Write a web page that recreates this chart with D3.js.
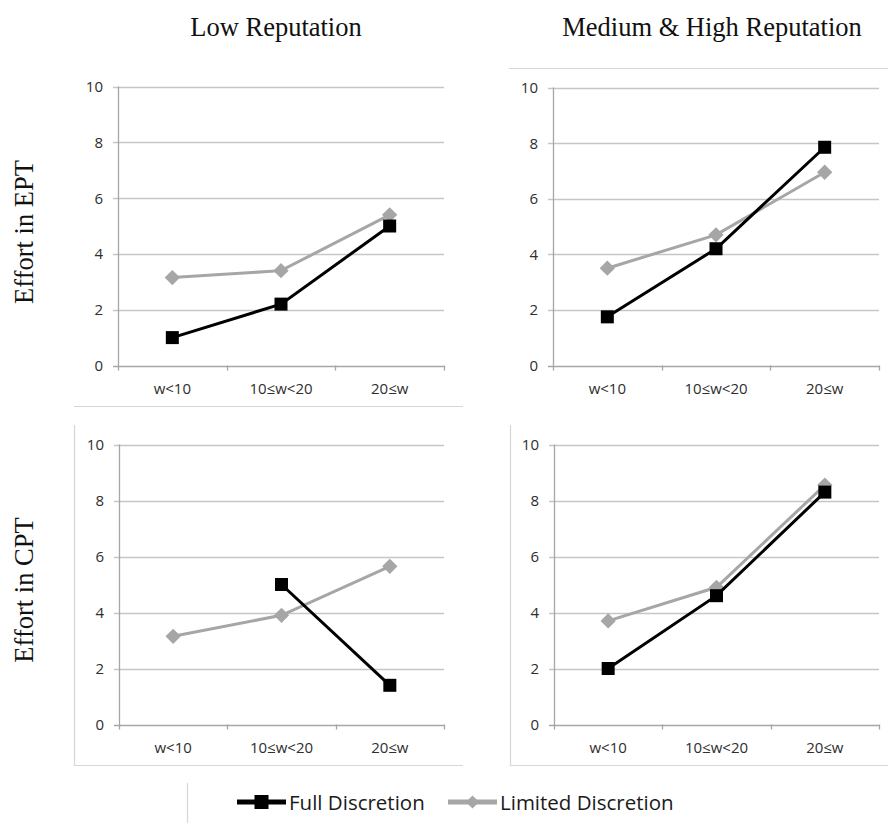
<!DOCTYPE html>
<html>
<head>
<meta charset="utf-8">
<script src="https://cdn.jsdelivr.net/npm/d3@7"></script>
<style>
body { margin: 0; background: #fff; }
svg { display: block; }
</style>
</head>
<body>
<svg width="888" height="823"></svg>
<script>
// categories and series, one array per panel
var categories = ['w<10', '10≤w<20', '20≤w']
var yTicks = [0, 2, 4, 6, 8, 10]
var seriesNames = ['Full Discretion', 'Limited Discretion']
var colTitles = ['Low Reputation', 'Medium & High Reputation']
var rowTitles = ['Effort in EPT', 'Effort in CPT']

var fullLowEPT = [1.0, 2.2, 5.0]
var limitedLowEPT = [3.15, 3.4, 5.4]
var fullHighEPT = [1.75, 4.2, 7.85]
var limitedHighEPT = [3.5, 4.7, 6.95]
var fullLowCPT = [null, 5.0, 1.4]
var limitedLowCPT = [3.15, 3.9, 5.65]
var fullHighCPT = [2.0, 4.6, 8.3]
var limitedHighCPT = [3.7, 4.9, 8.55]

var svg = d3.select('svg')
var grid = '#c6c6c6', axisCol = '#a6a6a6', frameCol = '#d6d6d6', txt = '#2e2e2e'
var black = '#000', gray = '#a6a6a6'

var panels = [
  { x0: 118, x1: 444, y0: 365.5, y1: 86.5, full: fullLowEPT, limited: limitedLowEPT },
  { x0: 553, x1: 879, y0: 365.5, y1: 87.5, full: fullHighEPT, limited: limitedHighEPT },
  { x0: 119, x1: 444, y0: 724.5, y1: 444.5, full: fullLowCPT, limited: limitedLowCPT },
  { x0: 554, x1: 879, y0: 724.5, y1: 444.5, full: fullHighCPT, limited: limitedHighCPT }
]

// frame fragments of the pasted chart boxes
var frames = [
  [74, 406.5, 463, 406.5],
  [509, 68.5, 888, 68.5],
  [74.5, 425, 74.5, 766], [74, 765.5, 463, 765.5],
  [510.5, 425, 510.5, 766], [510, 765.5, 888, 765.5],
  [187.5, 783, 187.5, 823]
]
svg.selectAll('line.frame').data(frames).enter().append('line')
  .attr('class', 'frame')
  .attr('x1', function (d) { return d[0] }).attr('y1', function (d) { return d[1] })
  .attr('x2', function (d) { return d[2] }).attr('y2', function (d) { return d[3] })
  .attr('stroke', frameCol).attr('stroke-width', 1.2)

panels.forEach(function (p) {
  var x = d3.scaleBand().domain(categories).range([p.x0, p.x1])
  var y = d3.scaleLinear().domain([0, 10]).range([p.y0, p.y1])
  var g = svg.append('g')

  // gridlines
  g.selectAll('line.grid').data(yTicks).enter().append('line')
    .attr('x1', p.x0 - 5).attr('x2', p.x1)
    .attr('y1', function (d) { return Math.round(y(d)) + 0.5 })
    .attr('y2', function (d) { return Math.round(y(d)) + 0.5 })
    .attr('stroke', function (d) { return d === 0 ? axisCol : grid })
    .attr('stroke-width', 1.3)

  // y axis
  g.append('line').attr('x1', p.x0 + 0.5).attr('x2', p.x0 + 0.5)
    .attr('y1', y(10)).attr('y2', y(0) + 5)
    .attr('stroke', axisCol).attr('stroke-width', 1.3)
  g.selectAll('text.yt').data(yTicks).enter().append('text')
    .attr('x', p.x0 - 15).attr('y', function (d) { return y(d) })
    .attr('dy', '0.36em').attr('text-anchor', 'end')
    .attr('font-family', 'Open Sans').attr('font-size', 15).attr('fill', txt)
    .text(function (d) { return d })

  // x axis boundary ticks
  var bounds = categories.map(function (c) { return x(c) + x.bandwidth() }).slice(0, -1).concat([p.x1])
  g.selectAll('line.xt').data(bounds).enter().append('line')
    .attr('x1', function (d) { return Math.round(d) + 0.5 }).attr('x2', function (d) { return Math.round(d) + 0.5 })
    .attr('y1', y(0)).attr('y2', y(0) + 5)
    .attr('stroke', axisCol).attr('stroke-width', 1.3)
  g.selectAll('text.xl').data(categories).enter().append('text')
    .attr('x', function (d) { return x(d) + x.bandwidth() / 2 })
    .attr('y', y(0) + 23).attr('dy', '0.36em').attr('text-anchor', 'middle')
    .attr('font-family', 'Open Sans').attr('font-size', 15).attr('fill', txt)
    .text(function (d) { return d })

  var line = d3.line()
    .defined(function (d) { return d != null })
    .x(function (d, i) { return x(categories[i]) + x.bandwidth() / 2 })
    .y(function (d) { return y(d) })

  // limited discretion (gray diamonds)
  g.append('path').datum(p.limited).attr('d', line)
    .attr('fill', 'none').attr('stroke', gray).attr('stroke-width', 3)
  g.selectAll('path.dia').data(p.limited).enter().append('path')
    .attr('transform', function (d, i) { return 'translate(' + (x(categories[i]) + x.bandwidth() / 2) + ',' + y(d) + ')' })
    .attr('d', d3.symbol().type(d3.symbolDiamond2).size(150))
    .attr('fill', gray)

  // full discretion (black squares)
  g.append('path').datum(p.full).attr('d', line)
    .attr('fill', 'none').attr('stroke', black).attr('stroke-width', 3)
  g.selectAll('rect.sq').data(p.full.map(function (d, i) { return { v: d, c: categories[i] } })
      .filter(function (d) { return d.v != null }))
    .enter().append('rect')
    .attr('x', function (d) { return x(d.c) + x.bandwidth() / 2 - 6.5 })
    .attr('y', function (d) { return y(d.v) - 6.5 })
    .attr('width', 13).attr('height', 13).attr('fill', black)
})

// column and row titles
svg.selectAll('text.col').data(colTitles).enter().append('text')
  .attr('x', function (d, i) { return [276, 712][i] }).attr('y', 36)
  .attr('text-anchor', 'middle')
  .attr('font-family', 'Liberation Serif').attr('font-size', 26.5).attr('fill', '#111')
  .text(function (d) { return d })
svg.selectAll('text.row').data(rowTitles).enter().append('text')
  .attr('transform', function (d, i) { return 'translate(33,' + [232, 590][i] + ') rotate(-90)' })
  .attr('text-anchor', 'middle')
  .attr('font-family', 'Liberation Serif').attr('font-size', 26.5).attr('fill', '#111')
  .text(function (d) { return d })

// legend
var legend = [
  { name: seriesNames[0], x: 237, color: black },
  { name: seriesNames[1], x: 448, color: gray }
]
var lg = svg.selectAll('g.lg').data(legend).enter().append('g')
  .attr('transform', function (d) { return 'translate(' + d.x + ',802)' })
lg.append('line').attr('x1', 0).attr('x2', 49).attr('y1', 0).attr('y2', 0)
  .attr('stroke', function (d) { return d.color }).attr('stroke-width', 5)
lg.append('path')
  .attr('transform', 'translate(24.5,0)')
  .attr('d', function (d, i) { return i ? d3.symbol().type(d3.symbolDiamond2).size(110)() : d3.symbol().type(d3.symbolSquare).size(196)() })
  .attr('fill', function (d) { return d.color })
lg.append('text').attr('x', 52).attr('y', 8)
  .attr('font-family', 'Open Sans').attr('font-size', 20.5).attr('fill', '#1a1a1a')
  .text(function (d) { return d.name })
</script>
</body>
</html>
